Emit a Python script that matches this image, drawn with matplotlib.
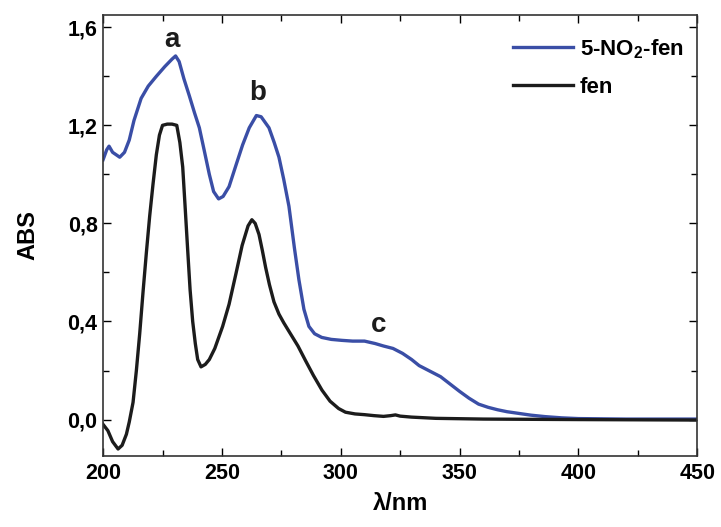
import numpy as np
import matplotlib
matplotlib.use("Agg")
import matplotlib.pyplot as plt
from matplotlib.ticker import MultipleLocator, FuncFormatter

plt.rcParams['font.family'] = ['Liberation Sans', 'DejaVu Sans']
plt.rcParams['font.weight'] = 'bold'
plt.rcParams['mathtext.fontset'] = 'custom'
plt.rcParams['mathtext.rm'] = 'Liberation Sans:bold'
plt.rcParams['mathtext.bf'] = 'Liberation Sans:bold'
plt.rcParams['mathtext.default'] = 'bf'

# 5-NO2-fen spectrum (blue)
wl_nitro = [200, 201.5, 202.5, 204, 207, 209, 211, 213, 216, 219, 222.4, 226, 229, 230.5,
            232, 234, 236.3, 238.5, 240.5, 242.5, 244.7, 246.5, 248.6, 250.5, 253, 256,
            258.7, 261.5, 264.5, 266.5, 269.8, 272, 274, 276, 278.2, 280.5, 282.4, 284.5,
            286.6, 289, 292, 296, 300.5, 305, 310, 314.5, 318, 322, 326, 329.8, 333, 336,
            339, 342, 346, 350, 354, 358, 362, 366, 370, 375, 380, 386, 393, 400, 420, 450]
abs_nitro = [1.06, 1.10, 1.115, 1.09, 1.07, 1.09, 1.14, 1.22, 1.31, 1.36, 1.40, 1.44, 1.47, 1.483,
             1.46, 1.39, 1.32, 1.25, 1.19, 1.10, 1.00, 0.93, 0.90, 0.91, 0.95, 1.04,
             1.12, 1.19, 1.24, 1.235, 1.19, 1.13, 1.07, 0.98, 0.87, 0.70, 0.57, 0.45,
             0.38, 0.35, 0.335, 0.327, 0.323, 0.32, 0.32, 0.31, 0.30, 0.29, 0.27, 0.245, 0.22, 0.205,
             0.19, 0.175, 0.145, 0.115, 0.087, 0.063, 0.05, 0.04, 0.032, 0.025, 0.018, 0.012, 0.007, 0.004, 0.002, 0.002]

# fen spectrum (black)
wl_fen = [200, 202, 204, 206.3, 208, 209.8, 211, 212.6, 214, 215.4, 216.8, 218.2, 219.6, 221,
          222.4, 223.7, 225, 227, 229, 231, 232.3, 233.5, 234.5, 235.6, 236.6, 237.7, 238.8,
          239.8, 241.2, 243, 244.7, 247, 250.3, 253, 255.9, 258.5, 261, 262.6, 264, 265.6,
          267, 268.4, 270, 271.9, 274, 276, 278.2, 282, 285.2, 288.5, 292.1, 295.5, 299.1,
          302, 306, 310, 314, 318, 321, 323, 325, 329.8, 340, 360, 400, 450]
abs_fen = [-0.02, -0.045, -0.09, -0.12, -0.105, -0.06, -0.01, 0.07, 0.2, 0.35, 0.52, 0.68, 0.83, 0.96,
           1.08, 1.16, 1.20, 1.205, 1.205, 1.2, 1.13, 1.03, 0.87, 0.69, 0.53, 0.40, 0.31,
           0.245, 0.215, 0.225, 0.245, 0.29, 0.38, 0.47, 0.595, 0.71, 0.79, 0.815, 0.80, 0.755,
           0.69, 0.62, 0.55, 0.48, 0.43, 0.395, 0.36, 0.30, 0.24, 0.18, 0.12, 0.075, 0.045,
           0.03, 0.023, 0.02, 0.016, 0.013, 0.016, 0.019, 0.014, 0.01, 0.005, 0.002, 0.0, -0.002]

peak_labels = ['a', 'b', 'c']
peak_x = [228.8, 265.0, 316.0]
peak_y = [1.548, 1.33, 0.384]

fig = plt.figure(figsize=(7.21, 5.27), dpi=100)
ax = fig.add_axes([0.143, 0.135, 0.824, 0.837])

ax.plot(wl_nitro, abs_nitro, color='#3a4ea6', lw=2.4, label='5-NO$_2$-fen')
ax.plot(wl_fen, abs_fen, color='#1c1c1c', lw=2.4, label='fen')

for t, x, y in zip(peak_labels, peak_x, peak_y):
    ax.text(x, y, t, fontsize=20, fontweight='bold', ha='center', va='center', color='#1c1c1c')

ax.set_xlim(200, 450)
ax.set_ylim(-0.148, 1.651)
ax.xaxis.set_major_locator(MultipleLocator(50))
ax.xaxis.set_minor_locator(MultipleLocator(25))
ax.yaxis.set_major_locator(MultipleLocator(0.4))
ax.yaxis.set_minor_locator(MultipleLocator(0.2))
ax.yaxis.set_major_formatter(FuncFormatter(lambda v, p: f"{v:.1f}".replace('.', ',').replace('-0,0', '0,0')))
ax.tick_params(which='both', direction='in', top=True, right=True, labelsize=15.5)
ax.tick_params(axis='x', pad=5)
ax.tick_params(axis='y', pad=4)
ax.tick_params(which='major', length=6, width=1)
ax.tick_params(which='minor', length=4, width=1)
for lab in ax.get_xticklabels() + ax.get_yticklabels():
    lab.set_fontweight('bold')
for s in ax.spines.values():
    s.set_linewidth(1.2)
    s.set_color('#333333')

ax.set_xlabel('λ/nm', fontsize=17, fontweight='bold', labelpad=6)
ax.set_ylabel('ABS', fontsize=17, fontweight='bold', labelpad=20)

leg = ax.legend(loc='upper right', bbox_to_anchor=(1.0, 0.98), frameon=False, fontsize=16,
                handlelength=2.7, handletextpad=0.3, labelspacing=0.75, borderaxespad=0.2)
for t in leg.get_texts():
    t.set_fontweight('bold')

fig.savefig('out.png', dpi=100)
